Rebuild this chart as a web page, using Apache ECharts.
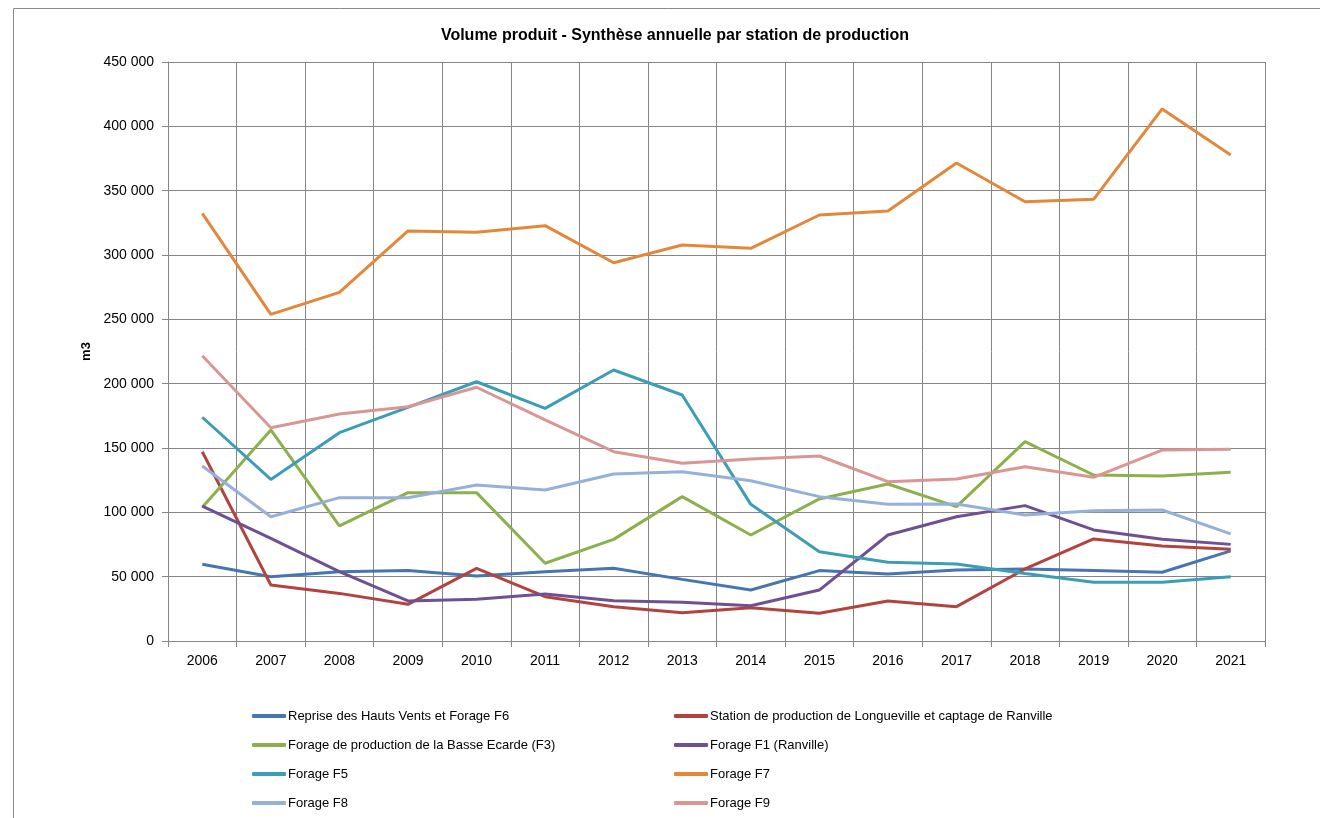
<!DOCTYPE html>
<html>
<head>
<meta charset="utf-8">
<script src="https://cdn.jsdelivr.net/npm/echarts@6/dist/echarts.min.js"></script>
<style>html,body{margin:0;padding:0;background:#fff}#c{width:1320px;height:818px}</style>
</head>
<body>
<div id="c"></div>
<script>
const years = ['2006','2007','2008','2009','2010','2011','2012','2013','2014','2015','2016','2017','2018','2019','2020','2021'];
const yTicks = [0, 50000, 100000, 150000, 200000, 250000, 300000, 350000, 400000, 450000];

const repriseHautsVentsF6 = [59600, 50000, 53900, 54700, 50500, 53900, 56500, 47900, 39600, 54700, 52100, 55200, 56000, 54700, 53400, 70000];
const stationLongueville = [147100, 43500, 37000, 28500, 56500, 34400, 26700, 22000, 25900, 21500, 31100, 26700, 56000, 79300, 73800, 71300];
const basseEcardeF3 = [103900, 164000, 89400, 115300, 115300, 60400, 79000, 112200, 82400, 110400, 122000, 104400, 154900, 129000, 128200, 131100];
const forageF1 = [104900, 79800, 53900, 31100, 32400, 36500, 31300, 30100, 27400, 39600, 82400, 96600, 105200, 86300, 79000, 75100];
const forageF5 = [173900, 125600, 161900, 181600, 201500, 180800, 210600, 191200, 106200, 69400, 61200, 59800, 52500, 45600, 45600, 50000];
const forageF7 = [332400, 253900, 271000, 318700, 317600, 322800, 294000, 307800, 305200, 331100, 334200, 371500, 341400, 343300, 413500, 377700];
const forageF8 = [136000, 96600, 111400, 111400, 121300, 117400, 129800, 131600, 124600, 112200, 106200, 106500, 97900, 101300, 101800, 83200];
const forageF9 = [221700, 165800, 176400, 182100, 197200, 171800, 147100, 138100, 141500, 143800, 123800, 125900, 135500, 127200, 148400, 149000];

const seriesDefs = [
  {name: 'Reprise des Hauts Vents et Forage F6', data: repriseHautsVentsF6, color: '#4675B0'},
  {name: 'Station de production de Longueville et captage de Ranville', data: stationLongueville, color: '#B3433F'},
  {name: 'Forage de production de la Basse Ecarde (F3)', data: basseEcardeF3, color: '#8DB04C'},
  {name: 'Forage F1 (Ranville)', data: forageF1, color: '#6F5094'},
  {name: 'Forage F5', data: forageF5, color: '#3C9DB7'},
  {name: 'Forage F7', data: forageF7, color: '#E3873A'},
  {name: 'Forage F8', data: forageF8, color: '#95B0D9'},
  {name: 'Forage F9', data: forageF9, color: '#D99694'}
];

const fmt = v => String(v).replace(/\B(?=(\d{3})+(?!\d))/g, ' ');
const FONT = '"Liberation Sans", Arial, sans-serif';

const chart = echarts.init(document.getElementById('c'), null, {renderer: 'canvas'});
const legendCommon = {
  orient: 'vertical', top: 708, height: 120, itemWidth: 34, itemHeight: 4, itemGap: 13, icon: 'roundRect',
  padding: 0,
  textStyle: {fontFamily: FONT, fontSize: 13, lineHeight: 16, color: '#000', padding: [0, 0, 0, -3]},
  selectedMode: false
};
chart.setOption({
  animation: false,
  backgroundColor: '#fff',
  title: {
    text: 'Volume produit - Synthèse annuelle par station de production',
    left: 670, top: 23, textAlign: 'center',
    textStyle: {fontFamily: FONT, fontSize: 16, fontWeight: 'bold', color: '#000'}
  },
  graphic: [{
    type: 'rect', shape: {x: 13.5, y: 8.5, width: 1400, height: 900},
    style: {fill: 'none', stroke: '#8a8a8a', lineWidth: 1}, silent: true
  }],
  legend: [
    Object.assign({left: 252, data: [seriesDefs[0].name, seriesDefs[2].name, seriesDefs[4].name, seriesDefs[6].name]}, legendCommon),
    Object.assign({left: 674, data: [seriesDefs[1].name, seriesDefs[3].name, seriesDefs[5].name, seriesDefs[7].name]}, legendCommon)
  ],
  grid: {left: 168, right: 55, top: 62, bottom: 177, containLabel: false},
  xAxis: {
    type: 'category', data: years, boundaryGap: true,
    axisLine: {lineStyle: {color: '#868686', width: 1}},
    axisTick: {show: true, alignWithLabel: false, length: 6, lineStyle: {color: '#868686'}},
    axisLabel: {fontFamily: FONT, fontSize: 14, color: '#000', margin: 13},
    splitLine: {show: true, lineStyle: {color: '#868686', width: 1}}
  },
  yAxis: {
    type: 'value', min: 0, max: 450000, interval: 50000,
    name: 'm3', nameLocation: 'middle', nameGap: 71, nameRotate: 90,
    nameTextStyle: {fontFamily: FONT, fontSize: 13, fontWeight: 'bold', color: '#000'},
    axisLine: {show: true, lineStyle: {color: '#868686', width: 1}},
    axisTick: {show: true, length: 6, lineStyle: {color: '#868686'}},
    axisLabel: {fontFamily: FONT, fontSize: 14, color: '#000', margin: 14, formatter: v => fmt(v)},
    splitLine: {show: true, lineStyle: {color: '#868686', width: 1}}
  },
  series: seriesDefs.map(s => ({
    name: s.name, type: 'line', data: s.data, symbol: 'none',
    lineStyle: {width: 3, color: s.color}, itemStyle: {color: s.color},
    emphasis: {disabled: true}
  }))
});
</script>
</body>
</html>
